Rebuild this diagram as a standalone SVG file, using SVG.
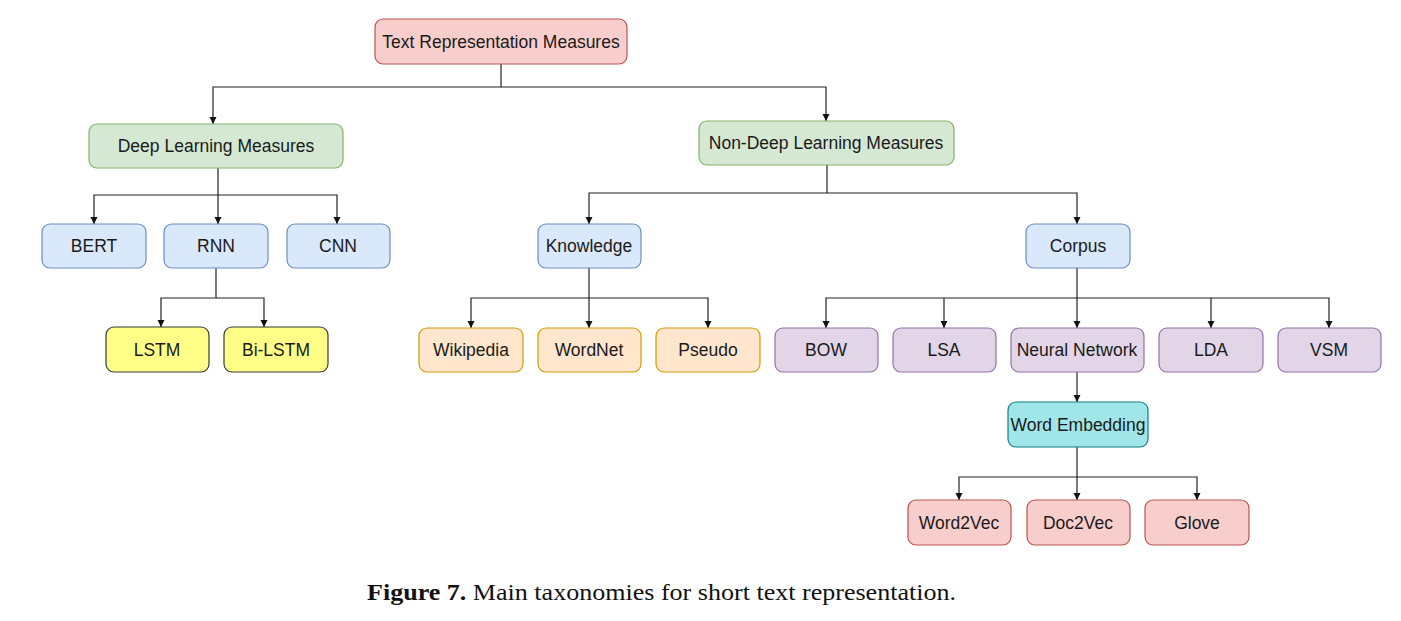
<svg xmlns="http://www.w3.org/2000/svg" width="1401" height="621" viewBox="0 0 1401 621">
<style>
.n rect{stroke-width:1.2}
.n text{font-family:"Liberation Sans",Arial,sans-serif;font-size:17.5px;fill:#1a1a1a;text-anchor:middle;dominant-baseline:central}
.red rect{fill:#f8cecc;stroke:#b85450}
.green rect{fill:#d5e8d4;stroke:#82b366}
.blue rect{fill:#dae8fc;stroke:#6c8ebf}
.yellow rect{fill:#ffff88;stroke:#36393d}
.orange rect{fill:#ffe6cc;stroke:#d79b00}
.purple rect{fill:#e1d5e7;stroke:#9673a6}
.teal rect{fill:#a0e6e8;stroke:#0e8088}
#connectors path{fill:none;stroke:#222;stroke-width:1.2}
.cap{font-family:"Liberation Serif","Times New Roman",serif;font-size:24px;fill:#111}
</style>
<defs>
<marker id="ah" markerWidth="8" markerHeight="8" refX="7" refY="3.5" orient="auto" markerUnits="userSpaceOnUse">
<path d="M0,0 L7,3.5 L0,7 z" fill="#111"/>
</marker>
</defs>
<rect width="1401" height="621" fill="#fff"/>
<g id="connectors">
<path d="M501,64 V87 H213 V124" marker-end="url(#ah)"/>
<path d="M501,87 H826 V121" marker-end="url(#ah)"/>
<path d="M218,168 V195 H94 V224" marker-end="url(#ah)"/>
<path d="M218,195 V224" marker-end="url(#ah)"/>
<path d="M218,195 H337 V224" marker-end="url(#ah)"/>
<path d="M216,268 V298 H161 V327" marker-end="url(#ah)"/>
<path d="M216,298 H264 V327" marker-end="url(#ah)"/>
<path d="M827,165 V193 H589 V224" marker-end="url(#ah)"/>
<path d="M827,193 H1077 V224" marker-end="url(#ah)"/>
<path d="M589,268 V298 H471 V328" marker-end="url(#ah)"/>
<path d="M589,298 V328" marker-end="url(#ah)"/>
<path d="M589,298 H708 V328" marker-end="url(#ah)"/>
<path d="M1077,268 V298 H826 V328" marker-end="url(#ah)"/>
<path d="M944,298 V328" marker-end="url(#ah)"/>
<path d="M1077,298 V328" marker-end="url(#ah)"/>
<path d="M1077,298 H1329 V328" marker-end="url(#ah)"/>
<path d="M1211,298 V328" marker-end="url(#ah)"/>
<path d="M1077,372 V402" marker-end="url(#ah)"/>
<path d="M1077,447 V477 H959 V500" marker-end="url(#ah)"/>
<path d="M1077,477 V500" marker-end="url(#ah)"/>
<path d="M1077,477 H1197 V500" marker-end="url(#ah)"/>
</g>
<g id="root" class="n red"><rect x="375" y="19" width="252" height="45" rx="8"/><text x="501" y="42">Text Representation Measures</text></g>
<g id="deep" class="n green"><rect x="89" y="124" width="254" height="44" rx="8"/><text x="216" y="146">Deep Learning Measures</text></g>
<g id="nondeep" class="n green"><rect x="699" y="121" width="255" height="44" rx="8"/><text x="826" y="143">Non-Deep Learning Measures</text></g>
<g id="bert" class="n blue"><rect x="42" y="224" width="104" height="44" rx="8"/><text x="94" y="246">BERT</text></g>
<g id="rnn" class="n blue"><rect x="164" y="224" width="104" height="44" rx="8"/><text x="216" y="246">RNN</text></g>
<g id="cnn" class="n blue"><rect x="287" y="224" width="103" height="44" rx="8"/><text x="338" y="246">CNN</text></g>
<g id="lstm" class="n yellow"><rect x="106" y="327" width="103" height="45" rx="8"/><text x="157" y="350">LSTM</text></g>
<g id="bilstm" class="n yellow"><rect x="224" y="327" width="104" height="45" rx="8"/><text x="276" y="350">Bi-LSTM</text></g>
<g id="knowledge" class="n blue"><rect x="538" y="224" width="103" height="44" rx="8"/><text x="589" y="246">Knowledge</text></g>
<g id="corpus" class="n blue"><rect x="1026" y="224" width="104" height="44" rx="8"/><text x="1078" y="246">Corpus</text></g>
<g id="wikipedia" class="n orange"><rect x="419" y="328" width="104" height="44" rx="8"/><text x="471" y="350">Wikipedia</text></g>
<g id="wordnet" class="n orange"><rect x="538" y="328" width="103" height="44" rx="8"/><text x="589" y="350">WordNet</text></g>
<g id="pseudo" class="n orange"><rect x="656" y="328" width="104" height="44" rx="8"/><text x="708" y="350">Pseudo</text></g>
<g id="bow" class="n purple"><rect x="775" y="328" width="103" height="44" rx="8"/><text x="826" y="350">BOW</text></g>
<g id="lsa" class="n purple"><rect x="893" y="328" width="103" height="44" rx="8"/><text x="944" y="350">LSA</text></g>
<g id="nn" class="n purple"><rect x="1011" y="328" width="133" height="44" rx="8"/><text x="1077" y="350">Neural Network</text></g>
<g id="lda" class="n purple"><rect x="1159" y="328" width="104" height="44" rx="8"/><text x="1211" y="350">LDA</text></g>
<g id="vsm" class="n purple"><rect x="1278" y="328" width="103" height="44" rx="8"/><text x="1329" y="350">VSM</text></g>
<g id="we" class="n teal"><rect x="1008" y="402" width="140" height="45" rx="8"/><text x="1078" y="425">Word Embedding</text></g>
<g id="w2v" class="n red"><rect x="908" y="500" width="103" height="45" rx="8"/><text x="959" y="523">Word2Vec</text></g>
<g id="d2v" class="n red"><rect x="1027" y="500" width="103" height="45" rx="8"/><text x="1078" y="523">Doc2Vec</text></g>
<g id="glove" class="n red"><rect x="1145" y="500" width="104" height="45" rx="8"/><text x="1197" y="523">Glove</text></g>
<text class="cap" x="367" y="600" textLength="589" lengthAdjust="spacingAndGlyphs"><tspan font-weight="bold">Figure 7.</tspan> Main taxonomies for short text representation.</text>
</svg>
